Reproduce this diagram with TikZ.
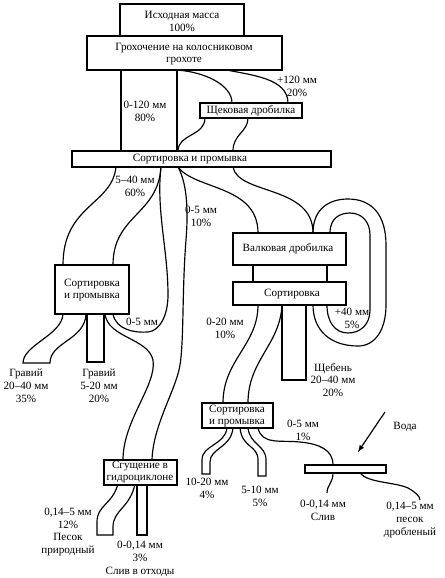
\documentclass[tikz,border=0pt]{standalone}
\usepackage{fontspec}
\setmainfont{Liberation Serif}
\tikzset{
  box/.style={draw, fill=white, line width=1.1pt},
  flow/.style={line width=1pt},
  txt/.style={font=\fontsize{9.5}{11}\selectfont, align=center, inner sep=0pt},
}
\begin{document}
\begin{tikzpicture}[x=0.03cm, y=-0.03cm]
\useasboundingbox (0,0) rectangle (445,578);
% streams, top part
\begin{scope}[flow]
\draw (121,70) -- (121,151);
\draw (177,70) -- (177,151);
\draw (177,70) .. controls (205,72) and (232,85) .. (232,103);
\draw (227,70) .. controls (250,75) and (288,78) .. (288,103);
\draw (205,118) .. controls (205,136) and (178,134) .. (178,151);
\draw (248,118) .. controls (248,132) and (233,134) .. (233,151);
\end{scope}
% streams below the first washing
\begin{scope}[flow]
\draw (116,167) .. controls (112,205) and (63,205) .. (63,265);
\draw (161,167) .. controls (158,215) and (113,215) .. (113,265);
\draw (113,314) .. controls (116,330) and (135,333) .. (148,332)
  .. controls (160,331) and (168,315) .. (168,295)
  .. controls (168,250) and (156,210) .. (161,167);
\draw (178,167) .. controls (188,185) and (188,215) .. (186,240)
  .. controls (182,290) and (184,340) .. (180,365)
  .. controls (176,390) and (153,425) .. (152,460);
\draw (105,314) .. controls (108,338) and (148,338) .. (153,360)
  .. controls (157,385) and (123,420) .. (123,460);
\draw (178,167) .. controls (195,190) and (258,185) .. (258,233);
\draw (233,167) .. controls (238,195) and (313,185) .. (313,233);
% gravel
\draw (63,314) .. controls (62,335) and (23,345) .. (23,363) -- (50,363)
  .. controls (50,342) and (85,340) .. (86,314);
\draw (87,314) -- (87,362) -- (104,362) -- (104,314);
\end{scope}
% crusher loop and crushed stone
\begin{scope}[flow]
\draw (313,233) .. controls (313,208) and (330,199) .. (348,199)
  .. controls (372,199) and (386,215) .. (386,245) -- (386,305)
  .. controls (386,330) and (375,346) .. (358,346)
  .. controls (330,346) and (313,330) .. (313,305);
\draw (330,233) .. controls (330,218) and (340,213) .. (350,213)
  .. controls (362,213) and (370,222) .. (370,235) -- (370,310)
  .. controls (370,325) and (360,333) .. (348,333)
  .. controls (335,333) and (327,322) .. (327,305);
\draw (282,305) -- (282,380) -- (306,380) -- (306,305);
\draw (258,305) .. controls (258,345) and (223,360) .. (223,403);
\draw (282,305) .. controls (280,345) and (248,360) .. (248,403);
\end{scope}
% bottom right
\begin{scope}[flow]
\draw (227,428) .. controls (225,445) and (202,445) .. (202,460) -- (202,474)
  -- (210,474) -- (210,462) .. controls (210,448) and (231,448) .. (233,428);
\draw (240,428) .. controls (242,448) and (258,445) .. (258,460) -- (258,476)
  -- (266,476) -- (266,460) .. controls (266,445) and (250,445) .. (248,428);
\draw (258,428) .. controls (262,445) and (280,440) .. (300,442)
  .. controls (320,444) and (333,450) .. (333,465);
\draw (333,473) .. controls (333,483) and (327,485) .. (327,493);
\draw (360,473) .. controls (368,483) and (395,482) .. (408,488)
  .. controls (415,492) and (420,496) .. (420,500);
\draw[-latex] (385,412) -- (358,452);
\end{scope}
% hydrocyclone outputs
\begin{scope}[flow]
\draw (118,484) .. controls (112,505) and (97,505) .. (97,522) -- (97,535)
  -- (113,535) -- (113,527) .. controls (113,510) and (130,508) .. (135,484);
\draw (137,484) -- (137,535) -- (147,535) -- (147,484);
\end{scope}
% boxes
\draw[box] (120,4) rectangle (244,36);
\node[txt] (src) at (182,21) {Исходная масса\\100\%};
\draw[box] (87,36) rectangle (282,70);
\node[txt] (grate) at (184,54) {Грохочение на колосниковом\\грохоте};
\draw[box] (200,103) rectangle (302,118);
\node[txt] (jaw) at (251,111) {Щековая дробилка};
\draw[box] (72,151) rectangle (331,167);
\node[txt] (wash) at (190,159) {Сортировка и промывка};
\draw[box] (55,265) rectangle (129,314);
\node[txt] (wash2) at (92,290) {Сортировка\\и промывка};
\draw[box] (233,233) rectangle (346,265);
\node[txt] (valk) at (288,249) {Валковая дробилка};
\draw[flow] (253,265) -- (253,282) (327,265) -- (327,282);
\draw[box] (233,282) rectangle (346,305);
\node[txt] (sortr) at (292,294) {Сортировка};
\draw[box] (202,403) rectangle (273,428);
\node[txt] (wash3) at (237,416) {Сортировка\\и промывка};
\draw[box] (104,460) rectangle (177,485);
\node[txt] (hydro) at (140,472) {Сгущение в\\гидроциклоне};
\draw[box] (305,465) rectangle (386,473);
% labels
\node[txt] (l120) at (297,86) {+120 мм\\20\%};
\node[txt] (l80) at (145,111) {0-120 мм\\80\%};
\node[txt] (l60) at (135,186) {5–40 мм\\60\%};
\node[txt] (l10) at (201,216) {0-5 мм\\10\%};
\node[txt] (l05) at (142,322) {0-5 мм};
\node[txt] (lg1) at (26,386) {Гравий\\20–40 мм\\35\%};
\node[txt] (lg2) at (99,386) {Гравий\\5-20 мм\\20\%};
\node[txt] (l020) at (225,328) {0-20 мм\\10\%};
\node[txt] (l40) at (352,318) {+40 мм\\5\%};
\node[txt] (lsch) at (333,380) {Щебень\\20–40 мм\\20\%};
\node[txt] (l1) at (303,430) {0-5 мм\\1\%};
\node[txt] (lw) at (405,427) {Вода};
\node[txt] (l4) at (207,488) {10-20 мм\\4\%};
\node[txt] (l5) at (260,496) {5-10 мм\\5\%};
\node[txt] (lsliv) at (323,510) {0-0,14 мм\\Слив};
\node[txt] (lsand) at (410,520) {0,14–5 мм\\песок\\дробленый};
\node[txt] (lnat) at (68,532) {0,14–5 мм\\12\%\\Песок\\природный};
\node[txt] (lout) at (140,559) {0-0,14 мм\\3\%\\Слив в отходы};
\end{tikzpicture}
\end{document}
